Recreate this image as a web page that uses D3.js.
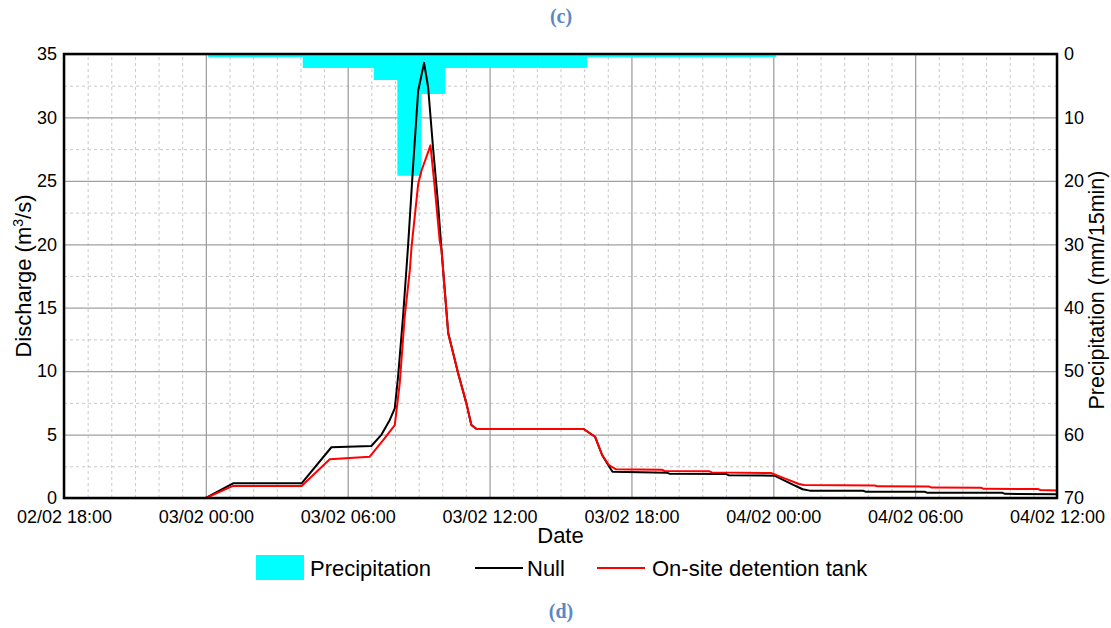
<!DOCTYPE html>
<html><head><meta charset="utf-8">
<script src="https://cdn.jsdelivr.net/npm/d3@7"></script>
<style>body{margin:0;background:#fff}svg{display:block}</style>
</head><body><svg id="chart" width="1111" height="628"></svg>
<script>
// ---- data (hours relative to 03/02 00:00) ----
const xTickHours = [-6, 0, 6, 12, 18, 24, 30, 36];
const xTickLabels = ["02/02 18:00","03/02 00:00","03/02 06:00","03/02 12:00","03/02 18:00","04/02 00:00","04/02 06:00","04/02 12:00"];
const dischargeTicks = [0, 5, 10, 15, 20, 25, 30, 35];
const precipTicks = [0, 10, 20, 30, 40, 50, 60, 70];

// hourly precipitation blocks (start hour, mm/15min)
const precipStartHours = [0.1,1.1,2.1,3.1,4.1,5.1,6.1,7.1,8.1,9.1,10.1,11.1,12.1,13.1,14.1,15.1,16.1,17.1,18.1,19.1,20.1,21.1,22.1,23.1];
const precipValues     = [0.5,0.5,0.5,0.5,2.2,2.2,2.2,4.1,19.2,6.3,2.2,2.2,2.2,2.2,2.2,2.2,0.5,0.5,0.5,0.5,0.5,0.5,0.5,0.5];

const nullHours = [0,1.15,4.05,5.31,7.0,7.43,7.78,7.99,8.13,8.34,8.55,8.77,8.98,9.23,9.40,9.61,9.82,9.97,10.25,10.67,11.02,11.23,11.45,15.98,16.46,16.76,17.05,17.2,19.5,19.6,22.0,22.1,24.05,24.65,25.24,25.54,27.8,27.9,30.4,30.5,33.7,33.8,36];
const nullDischarge = [0,1.16,1.16,4.0,4.1,5.0,6.15,7.07,9.56,14.3,19.8,26.3,32.1,34.3,32.4,27.6,23.2,19.5,13.0,9.83,7.46,5.75,5.44,5.44,4.83,3.39,2.5,2.07,2.0,1.92,1.9,1.8,1.76,1.21,0.69,0.58,0.57,0.5,0.49,0.42,0.41,0.33,0.3];

const tankHours = [0,1.15,4.05,5.24,6.93,7.5,7.99,8.2,8.41,8.63,8.7,8.98,9.12,9.5,9.68,9.89,9.97,10.25,10.67,11.02,11.23,11.45,15.98,16.46,16.76,17.05,17.35,19.3,19.4,21.3,21.4,23.9,24.48,25.09,25.3,28.3,28.4,30.6,30.7,32.8,32.9,35.2,35.3,36];
const tankDischarge = [0,0.95,0.95,3.05,3.26,4.57,5.75,9.04,14.3,18.0,19.8,24.75,25.8,27.8,24.5,20.3,19.5,13.0,9.83,7.46,5.75,5.44,5.44,4.83,3.39,2.6,2.26,2.22,2.13,2.1,2.02,1.97,1.55,1.1,1.02,0.98,0.92,0.9,0.82,0.8,0.72,0.7,0.63,0.6];

// ---- setup ----
const svg = d3.select("#chart");
const M = {left: 64, right: 1057, top: 54, bottom: 498};
const t0 = new Date(2000, 1, 3, 0, 0, 0);
const toDate = h => new Date(t0.getTime() + h * 3600e3);
const FONT = "'Liberation Sans', Arial, sans-serif";

const x = d3.scaleTime().domain([toDate(-6), toDate(36)]).range([M.left, M.right]);
const y = d3.scaleLinear().domain([0, 35]).range([M.bottom, M.top]);
const yP = d3.scaleLinear().domain([0, 70]).range([M.top, M.bottom]);

svg.append("rect").attr("width", 1111).attr("height", 628).attr("fill", "#fff");

// minor grid
const minorX = d3.range(-6, 37, 1).filter(h => h % 6 !== 0).map(toDate);
const minorY = d3.range(2.5, 35, 5);
const g = svg.append("g");
g.append("g").attr("transform", `translate(0,${M.bottom})`)
  .call(d3.axisBottom(x).tickValues(minorX).tickSize(-(M.bottom - M.top)).tickFormat(""))
  .call(s => s.select(".domain").remove())
  .selectAll("line").attr("stroke", "#c8c8c8").attr("stroke-dasharray", "3,3");
g.append("g").attr("transform", `translate(${M.left},0)`)
  .call(d3.axisLeft(y).tickValues(minorY).tickSize(-(M.right - M.left)).tickFormat(""))
  .call(s => s.select(".domain").remove())
  .selectAll("line").attr("stroke", "#c8c8c8").attr("stroke-dasharray", "3,3");
// major grid
g.append("g").attr("transform", `translate(0,${M.bottom})`)
  .call(d3.axisBottom(x).tickValues(xTickHours.map(toDate)).tickSize(-(M.bottom - M.top)).tickFormat(""))
  .call(s => s.select(".domain").remove())
  .selectAll("line").attr("stroke", "#a0a0a0").attr("stroke-width", 1.3);
g.append("g").attr("transform", `translate(${M.left},0)`)
  .call(d3.axisLeft(y).tickValues(dischargeTicks).tickSize(-(M.right - M.left)).tickFormat(""))
  .call(s => s.select(".domain").remove())
  .selectAll("line").attr("stroke", "#a0a0a0").attr("stroke-width", 1.3);

// clip
svg.append("clipPath").attr("id", "clip").append("rect")
  .attr("x", M.left).attr("y", M.top).attr("width", M.right - M.left).attr("height", M.bottom - M.top);
const plot = svg.append("g").attr("clip-path", "url(#clip)");

// precipitation bars
plot.selectAll("rect.p").data(precipStartHours).join("rect").attr("class", "p")
  .attr("x", h => x(toDate(h)))
  .attr("width", h => x(toDate(h + 1)) - x(toDate(h)) + 0.5)
  .attr("y", yP(0))
  .attr("height", (h, i) => yP(precipValues[i]) - yP(0))
  .attr("fill", "#00ffff");

// lines
const line = d3.line().x(d => x(toDate(d[0]))).y(d => y(d[1]));
plot.append("path").datum(nullHours.map((h, i) => [h, nullDischarge[i]]))
  .attr("d", line).attr("fill", "none").attr("stroke", "#000").attr("stroke-width", 2).attr("stroke-linejoin", "round");
plot.append("path").datum(tankHours.map((h, i) => [h, tankDischarge[i]]))
  .attr("d", line).attr("fill", "none").attr("stroke", "#ff0000").attr("stroke-width", 2).attr("stroke-linejoin", "round");

// frame
svg.append("rect").attr("x", M.left).attr("y", M.top).attr("width", M.right - M.left).attr("height", M.bottom - M.top)
  .attr("fill", "none").attr("stroke", "#000").attr("stroke-width", 2.5);

// axes labels
const tickStyle = s => s.selectAll("text").attr("font-family", FONT).attr("font-size", 18).attr("fill", "#000");
const ax = svg.append("g").attr("transform", `translate(0,${M.bottom})`)
  .call(d3.axisBottom(x).tickValues(xTickHours.map(toDate)).tickFormat((d, i) => xTickLabels[i]).tickSize(0).tickPadding(12));
ax.select(".domain").remove(); tickStyle(ax);
const al = svg.append("g").attr("transform", `translate(${M.left},0)`)
  .call(d3.axisLeft(y).tickValues(dischargeTicks).tickSize(0).tickPadding(7));
al.select(".domain").remove(); tickStyle(al);
const ar = svg.append("g").attr("transform", `translate(${M.right},0)`)
  .call(d3.axisRight(yP).tickValues(precipTicks).tickSize(0).tickPadding(7));
ar.select(".domain").remove(); tickStyle(ar);

// axis titles
svg.append("text").attr("x", (M.left + M.right) / 2).attr("y", 543).attr("text-anchor", "middle")
  .attr("font-family", FONT).attr("font-size", 22).text("Date");
const lt = svg.append("text").attr("transform", `translate(31,${(M.top + M.bottom) / 2}) rotate(-90)`)
  .attr("text-anchor", "middle").attr("font-family", FONT).attr("font-size", 22);
lt.append("tspan").text("Discharge (m");
lt.append("tspan").attr("font-size", 14).attr("dy", -8).text("3");
lt.append("tspan").attr("dy", 8).text("/s)");
svg.append("text").attr("transform", `translate(1104,290) rotate(-90)`)
  .attr("text-anchor", "middle").attr("font-family", FONT).attr("font-size", 21.5).text("Precipitation (mm/15min)");

// legend
const lg = svg.append("g").attr("font-family", FONT).attr("font-size", 22);
lg.append("rect").attr("x", 256).attr("y", 555).attr("width", 48).attr("height", 25).attr("fill", "#00ffff");
lg.append("text").attr("x", 310).attr("y", 576).text("Precipitation");
lg.append("line").attr("x1", 475).attr("x2", 523).attr("y1", 568).attr("y2", 568).attr("stroke", "#000").attr("stroke-width", 2);
lg.append("text").attr("x", 527).attr("y", 576).text("Null");
lg.append("line").attr("x1", 597).attr("x2", 645).attr("y1", 568).attr("y2", 568).attr("stroke", "#ff0000").attr("stroke-width", 2);
lg.append("text").attr("x", 652).attr("y", 576).text("On-site detention tank");

// panel labels
svg.append("text").attr("x", 561).attr("y", 23).attr("text-anchor", "middle")
  .attr("font-family", "'Liberation Serif', 'Times New Roman', serif").attr("font-weight", "bold").attr("font-size", 20)
  .attr("fill", "#5b87c5").text("(c)");
svg.append("text").attr("x", 561).attr("y", 618).attr("text-anchor", "middle")
  .attr("font-family", "'Liberation Serif', 'Times New Roman', serif").attr("font-weight", "bold").attr("font-size", 20)
  .attr("fill", "#5b87c5").text("(d)");
</script></body></html>
